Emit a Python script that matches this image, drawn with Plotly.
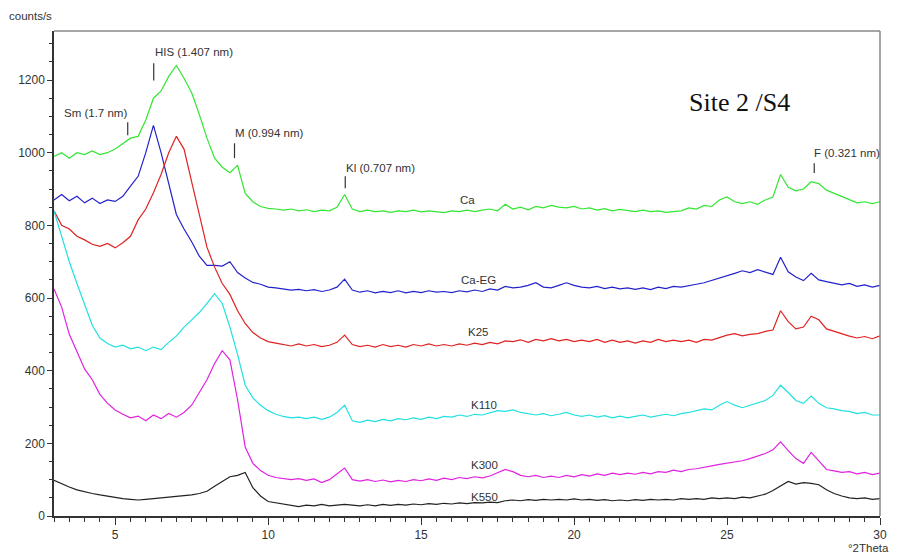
import plotly.graph_objects as go

# 2-theta sampling positions (degrees), 0.25 deg step from 3 to 30
two_theta = [3 + 0.25 * i for i in range(109)]

ca = [990, 1000, 985, 1000,
      995, 1005, 995, 1000,
      1010, 1025, 1040, 1045,
      1090, 1150, 1170, 1210,
      1240, 1205, 1165, 1105,
      1040, 985, 960, 945,
      965, 888, 865, 852,
      847, 845, 842, 845,
      840, 843, 838, 842,
      840, 850, 885, 845,
      838, 842, 838, 840,
      836, 840, 838, 842,
      837, 840, 838, 835,
      840, 838, 842, 838,
      842, 845, 840, 858,
      845, 850, 843, 852,
      848, 855, 850, 848,
      852, 845, 848, 842,
      846, 840, 844, 840,
      838, 842, 838, 840,
      836, 838, 840, 848,
      845, 855, 852, 870,
      878, 865, 860, 865,
      858, 870, 878, 940,
      905, 895, 900, 920,
      915, 897, 888, 878,
      870, 862, 865, 860,
      865]

ca_eg = [870, 885, 868, 880,
         862, 875, 860, 870,
         866, 880, 908, 935,
         1000, 1075, 1000, 915,
         830, 790, 755, 715,
         690, 690, 688, 700,
         670, 655, 643, 638,
         630, 628, 625, 622,
         624, 620, 623, 618,
         622, 630, 652, 622,
         616, 620, 614, 618,
         615, 620, 614, 618,
         615, 620, 616, 618,
         615, 620, 617, 622,
         618, 625, 622, 632,
         628, 630, 635, 642,
         630, 628, 635, 642,
         635, 630, 628, 632,
         626, 630, 625, 628,
         624, 628, 623, 630,
         626, 632, 630, 635,
         638, 642, 648, 655,
         662, 668, 675, 670,
         678, 672, 665, 712,
         672, 658, 648, 668,
         650, 645, 640, 636,
         640, 632, 636, 630,
         635]

k25 = [840, 800, 790, 770,
       760, 748, 742, 750,
       738, 752, 770, 815,
       845, 890, 940, 1000,
       1045, 1010, 920, 830,
       740, 685, 640, 610,
       565, 530, 505, 490,
       480, 476, 472, 468,
       474, 468, 472, 466,
       470, 478, 498, 472,
       466, 470, 465, 472,
       466, 470, 465, 472,
       468, 474, 468, 472,
       468, 474, 470, 476,
       472, 478, 474, 482,
       480, 485, 478, 486,
       482, 488, 482, 486,
       480, 484, 480, 486,
       478, 484, 478, 482,
       476, 482, 478, 486,
       480, 484, 480, 484,
       478, 486, 484, 492,
       498, 502, 496, 500,
       502, 508, 512, 565,
       535, 515, 520, 550,
       540, 515, 508, 500,
       495, 490, 494, 488,
       496]

k110 = [840, 770, 700, 640,
        580, 525, 490, 475,
        465, 470, 460, 465,
        455, 465, 458, 478,
        495, 520, 540, 560,
        585, 612, 585, 520,
        445, 360, 325, 305,
        290, 280, 274, 270,
        272, 268, 272, 266,
        272, 285, 305, 262,
        258, 264, 260, 266,
        262, 268, 265, 270,
        266, 272, 268, 274,
        272, 278, 274, 280,
        278, 284, 290, 288,
        292, 285, 282, 278,
        282, 276, 280, 285,
        278, 274, 278, 272,
        276, 270, 275, 270,
        274, 278, 272, 276,
        280, 276, 282, 285,
        290, 295, 292, 305,
        315, 305, 298, 305,
        312, 318, 332, 360,
        340, 318, 310, 330,
        310, 298, 295, 290,
        288, 282, 285, 278,
        278]

k300 = [625, 575, 500, 450,
        405, 375, 335, 310,
        292, 280, 270, 275,
        262, 278, 268, 282,
        272, 285, 305, 340,
        375, 420, 455, 430,
        320, 190, 145, 125,
        112, 106, 104, 100,
        103, 98, 102, 92,
        100, 115, 132, 100,
        96, 100, 95, 99,
        94, 98, 95, 100,
        97, 102, 98, 104,
        100, 106, 103, 108,
        105, 110, 118, 128,
        122, 112, 108, 112,
        106, 110, 106, 112,
        108, 114, 110, 116,
        112, 118, 114, 118,
        115, 120, 116, 122,
        120, 126, 122, 128,
        130, 135, 138, 142,
        145, 148, 152, 158,
        165, 172, 182, 204,
        180, 158, 145, 175,
        152, 128, 124, 120,
        122, 116, 120, 114,
        118]

k550 = [98, 88, 80, 72,
        66, 62, 58, 54,
        52, 48, 46, 44,
        46, 48, 50, 52,
        52, 55, 58, 62,
        68, 82, 95, 108,
        112, 120, 78, 55,
        40, 36, 34, 30,
        26, 30, 28, 32,
        28, 30, 32, 30,
        28, 31, 28, 32,
        29, 32, 30, 33,
        31, 34, 32, 35,
        33, 36, 34, 37,
        36, 38, 37, 42,
        44, 42, 45, 43,
        46, 44, 46, 44,
        47, 44, 46, 43,
        45, 42, 44, 42,
        45, 43, 46, 44,
        46, 44, 48, 46,
        48, 46, 50, 48,
        50, 48, 52, 50,
        55, 60, 70, 82,
        95, 88, 92, 90,
        86, 72, 62, 55,
        50, 48, 50, 46,
        48]

series_names = ["Ca", "Ca-EG", "K25", "K110", "K300", "K550"]
series_values = [ca, ca_eg, k25, k110, k300, k550]
series_colors = ["#33e633", "#2222cc", "#e02222", "#22e0e0", "#e022e0", "#222222"]

# curve label positions (deg, counts)
curve_label_x = [16.53, 16.86, 16.86, 17.05, 17.08, 17.08]
curve_label_y = [869, 649, 506, 305, 140, 52]

# mineral peak markers: label, marker 2theta, label position, marker top/bottom
peak_labels = ["Sm (1.7 nm)", "HIS (1.407 nm)", "M (0.994 nm)", "Kl (0.707 nm)", "F (0.321 nm)"]
peak_pos = [5.41, 6.26, 8.90, 12.52, 27.85]
peak_text_x = [3.26, 6.22, 8.86, 12.47, 27.77]
peak_text_y = [1109, 1276, 1054, 957, 999]
peak_tick_top = [1084, 1246, 1026, 935, 971]
peak_tick_bot = [1048, 1199, 985, 902, 944]

for v in series_values:
    assert len(v) == len(two_theta), len(v)

fig = go.Figure()
for name, vals, col in zip(series_names, series_values, series_colors):
    fig.add_trace(go.Scatter(x=two_theta, y=vals, mode="lines", name=name,
                             line=dict(color=col, width=1.2), showlegend=False))

txt_font = dict(family="Liberation Sans, Arial, sans-serif", size=11.5, color="#333333")
tick_font = dict(family="Liberation Sans, Arial, sans-serif", size=12, color="#333333")

annotations = []
for name, lx, ly in zip(series_names, curve_label_x, curve_label_y):
    annotations.append(dict(x=lx, y=ly, xref="x", yref="y", text=name, showarrow=False,
                            font=txt_font, xanchor="center", yanchor="middle"))
shapes = []
for lab, px, tx, ty, t0, t1 in zip(peak_labels, peak_pos, peak_text_x, peak_text_y,
                                   peak_tick_top, peak_tick_bot):
    annotations.append(dict(x=tx, y=ty, xref="x", yref="y", text=lab, showarrow=False,
                            font=txt_font, xanchor="left", yanchor="middle"))
    shapes.append(dict(type="line", xref="x", yref="y", x0=px, x1=px, y0=t0, y1=t1,
                       line=dict(color="#333333", width=1.2)))

annotations.append(dict(x=0.83, y=0.852, xref="paper", yref="paper", text="Site 2 /S4",
                        showarrow=False, xanchor="center", yanchor="middle",
                        font=dict(family="Liberation Serif, Times New Roman, serif", size=26, color="#111111")))
annotations.append(dict(x=-0.057, y=1.03, xref="paper", yref="paper", text="counts/s",
                        showarrow=False, xanchor="left", yanchor="middle", font=txt_font))
annotations.append(dict(x=1.013, y=-0.065, xref="paper", yref="paper", text="°2Theta",
                        showarrow=False, xanchor="right", yanchor="middle", font=txt_font))

# top and right frame borders (grey)
shapes.append(dict(type="line", xref="paper", yref="paper", x0=0, x1=1, y0=1, y1=1,
                   line=dict(color="#888888", width=1.5)))
shapes.append(dict(type="line", xref="paper", yref="paper", x0=1, x1=1, y0=0, y1=1,
                   line=dict(color="#888888", width=1.5)))

# page body has an 8px default margin, so the figure is sized to compensate
fig.update_layout(
    width=889, height=551, autosize=False,
    margin=dict(l=46, r=10, t=23, b=43, pad=0),
    paper_bgcolor="white", plot_bgcolor="white",
    annotations=annotations, shapes=shapes,
    font=txt_font,
)
fig.update_xaxes(range=[3, 30], showgrid=False, zeroline=False, showline=True,
                 linecolor="#333333", linewidth=1.5, ticks="outside", ticklen=7,
                 tickcolor="#333333", tickvals=[5, 10, 15, 20, 25, 30],
                 tickfont=tick_font,
                 minor=dict(dtick=0.5, tick0=3, ticklen=4, ticks="outside", tickcolor="#333333", showgrid=False))
fig.update_yaxes(range=[0, 1335], showgrid=False, zeroline=False, showline=True,
                 linecolor="#333333", linewidth=1.5, ticks="outside", ticklen=5,
                 tickcolor="#333333", dtick=200, tick0=0, tickfont=tick_font,
                 minor=dict(dtick=50, tick0=0, ticklen=3, ticks="outside", tickcolor="#333333", showgrid=False))

fig.write_html("out.html")
